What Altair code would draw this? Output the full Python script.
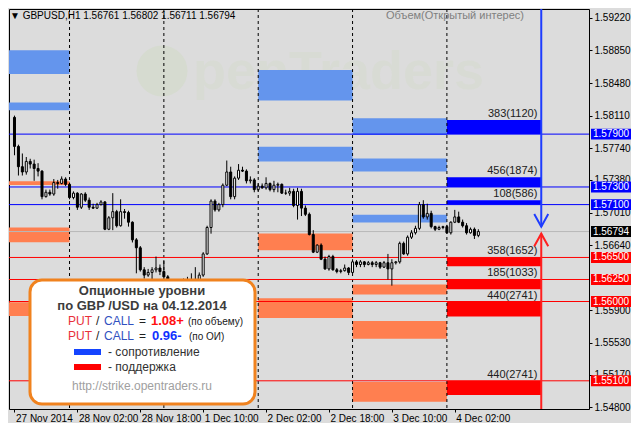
import altair as alt
import pandas as pd

# ---------------- data ----------------
# hourly GBPUSD candles, bar 0 = 27 Nov 2014 10:00 (weekend hours skipped)
opens = [1.5809,1.5776,1.5753,1.5747,1.5759,1.5756,1.5751,1.5748,1.5719,1.5724,
         1.5722,1.5735,1.5734,1.5739,1.5733,1.5718,1.5723,1.5707,1.5722,1.5715,
         1.5707,1.5706,1.5710,1.5713,1.5682,1.5695,1.5702,1.5686,1.5702,1.5701,
         1.5690,1.5670,1.5661,1.5636,1.5630,1.5633,1.5636,1.5638,1.5634,1.5628,
         1.5623,1.5619,1.5615,1.5618,1.5620,1.5624,1.5625,1.5623,1.5630,1.5654,
         1.5684,1.5714,1.5704,1.5710,1.5732,1.5747,1.5719,1.5740,1.5749,1.5748,
         1.5737,1.5738,1.5727,1.5731,1.5729,1.5734,1.5727,1.5732,1.5733,1.5723,
         1.5723,1.5725,1.5709,1.5725,1.5706,1.5699,1.5676,1.5656,1.5664,1.5648,
         1.5637,1.5651,1.5636,1.5634,1.5635,1.5638,1.5633,1.5645,1.5642,1.5645,
         1.5642,1.5644,1.5642,1.5644,1.5639,1.5644,1.5637,1.5644,1.5645,1.5666,
         1.5654,1.5673,1.5678,1.5683,1.5710,1.5696,1.5700,1.5685,1.5682,1.5684,
         1.5685,1.5678,1.5690,1.5696,1.5690,1.5686,1.5678,1.5682,1.5675]
highs = [1.5811,1.5778,1.5768,1.5764,1.5762,1.5761,1.5757,1.5749,1.5727,1.5727,
         1.5739,1.5738,1.5742,1.5741,1.5735,1.5725,1.5724,1.5723,1.5724,1.5718,
         1.5711,1.5712,1.5715,1.5714,1.5697,1.5723,1.5704,1.5716,1.5705,1.5703,
         1.5691,1.5672,1.5663,1.5639,1.5637,1.5639,1.5651,1.5642,1.5647,1.5630,
         1.5625,1.5623,1.5623,1.5626,1.5628,1.5632,1.5639,1.5633,1.5656,1.5686,
         1.5716,1.5716,1.5712,1.5734,1.5760,1.5753,1.5742,1.5756,1.5753,1.5750,
         1.5742,1.5740,1.5734,1.5734,1.5741,1.5735,1.5737,1.5735,1.5734,1.5727,
         1.5729,1.5728,1.5729,1.5728,1.5709,1.5701,1.5681,1.5665,1.5666,1.5651,
         1.5653,1.5653,1.5638,1.5637,1.5642,1.5639,1.5648,1.5647,1.5647,1.5646,
         1.5646,1.5646,1.5646,1.5645,1.5646,1.5654,1.5648,1.5646,1.5668,1.5668,
         1.5675,1.5681,1.5686,1.5713,1.5715,1.5711,1.5703,1.5686,1.5686,1.5686,
         1.5687,1.5691,1.5704,1.5702,1.5693,1.5689,1.5684,1.5684,1.5682]
lows = [1.5766,1.5743,1.5743,1.5744,1.5751,1.5737,1.5742,1.5716,1.5718,1.5720,
        1.5720,1.5728,1.5733,1.5731,1.5716,1.5716,1.5704,1.5705,1.5713,1.5704,
        1.5705,1.5705,1.5709,1.5681,1.5681,1.5681,1.5684,1.5685,1.5694,1.5685,
        1.5667,1.5632,1.5634,1.5626,1.5628,1.5623,1.5633,1.5630,1.5625,1.5617,
        1.5611,1.5606,1.5610,1.5615,1.5617,1.5618,1.5619,1.5620,1.5628,1.5653,
        1.5677,1.5702,1.5702,1.5707,1.5731,1.5716,1.5716,1.5738,1.5747,1.5734,
        1.5734,1.5724,1.5725,1.5728,1.5727,1.5725,1.5724,1.5724,1.5722,1.5721,
        1.5720,1.5707,1.5693,1.5697,1.5697,1.5675,1.5655,1.5655,1.5647,1.5636,
        1.5635,1.5635,1.5632,1.5632,1.5634,1.5630,1.5632,1.5639,1.5639,1.5639,
        1.5641,1.5639,1.5639,1.5637,1.5638,1.5625,1.5618,1.5642,1.5643,1.5653,
        1.5652,1.5671,1.5676,1.5681,1.5694,1.5693,1.5683,1.5680,1.5681,1.5682,
        1.5677,1.5676,1.5689,1.5689,1.5684,1.5676,1.5677,1.5671,1.5673]
closes = [1.5776,1.5753,1.5747,1.5759,1.5756,1.5751,1.5748,1.5719,1.5724,1.5722,
          1.5735,1.5734,1.5739,1.5733,1.5718,1.5723,1.5707,1.5722,1.5715,1.5707,
          1.5706,1.5710,1.5713,1.5682,1.5695,1.5702,1.5686,1.5702,1.5701,1.5690,
          1.5670,1.5661,1.5636,1.5630,1.5633,1.5636,1.5638,1.5634,1.5628,1.5623,
          1.5619,1.5615,1.5618,1.5620,1.5624,1.5625,1.5623,1.5630,1.5654,1.5684,
          1.5714,1.5704,1.5710,1.5732,1.5747,1.5719,1.5740,1.5749,1.5748,1.5737,
          1.5738,1.5727,1.5731,1.5729,1.5734,1.5727,1.5732,1.5733,1.5723,1.5723,
          1.5725,1.5709,1.5725,1.5706,1.5699,1.5676,1.5656,1.5664,1.5648,1.5637,
          1.5651,1.5636,1.5634,1.5635,1.5638,1.5633,1.5645,1.5642,1.5645,1.5642,
          1.5644,1.5642,1.5644,1.5639,1.5644,1.5637,1.5644,1.5645,1.5666,1.5654,
          1.5673,1.5678,1.5683,1.5710,1.5696,1.5700,1.5685,1.5682,1.5684,1.5685,
          1.5678,1.5690,1.5696,1.5690,1.5686,1.5678,1.5682,1.5675,1.56794]
hours = list(range(len(closes)))

day_bounds = [14, 38, 62, 86, 110]          # 28 Nov, 1 Dec, 2 Dec, 3 Dec, 4 Dec 00:00
x_tick_hours = [0, 16, 32, 48, 64, 80, 96, 112]
x_tick_labels = ["27 Nov 2014", "28 Nov 02:00", "28 Nov 18:00", "1 Dec 10:00",
                 "2 Dec 02:00", "2 Dec 18:00", "3 Dec 10:00", "4 Dec 02:00"]
y_tick_values = [1.5922, 1.5885, 1.5848, 1.5811, 1.5774, 1.5738, 1.5701,
                 1.5664, 1.5590, 1.5553, 1.5517, 1.5480]

# option blocks of previous days
blk_start = [-10, -10, -10, -10, -10, 62, 62, 62, 62, 86, 86, 86, 86, 86, 86]
blk_end = [14, 14, 14, 14, 14, 86, 86, 86, 86, 110, 110, 110, 110, 110, 110]
blk_low = [1.58583, 1.58170, 1.57321, 1.56673, 1.55835, 1.58282, 1.57589, 1.56583,
           1.55812, 1.57890, 1.57477, 1.56896, 1.56080, 1.55577, 1.54863]
blk_high = [1.58851, 1.58259, 1.57365, 1.56840, 1.55991, 1.58628, 1.57756, 1.56773,
            1.56036, 1.58080, 1.57622, 1.56985, 1.56192, 1.55779, 1.55086]
blk_kind = ["call", "call", "put", "put", "put", "call", "call", "put", "put",
            "call", "call", "call", "put", "put", "put"]

# today's (4 Dec) levels
lvl_strike = [1.5790, 1.5730, 1.5710, 1.5650, 1.5625, 1.5600, 1.5510]
lvl_edge = [1.5806, 1.5741, 1.5715, 1.5640, 1.5614, 1.5583, 1.5494]
lvl_kind = ["call", "call", "call", "put", "put", "put", "put"]
lvl_text = ["383(1120)", "456(1874)", "108(586)", "358(1652)", "185(1033)",
            "440(2741)", "440(2741)"]
today_start, today_end = 110, 134
last_price = 1.56794
arrow_call_tip = 1.5685
arrow_put_tip = 1.5677

LIGHT = {"call": "#6495ED", "put": "#FF7F50"}
BRIGHT = {"call": "#0000FF", "put": "#FF0000"}
FONT = "Liberation Sans"

# ---------------- frames ----------------
W, H = 580, 400
xs = alt.Scale(domain=[-0.125, 144.875], nice=False, zero=False)
ys = alt.Scale(domain=[1.5478, 1.5932], nice=False, zero=False)

label_js = "[" + ",".join(f"'{s}'" for s in x_tick_labels) + "]"
pos_js = "[" + ",".join(str(v) for v in x_tick_hours) + "]"
x_axis = alt.Axis(values=x_tick_hours, labelExpr=f"{label_js}[indexof({pos_js}, datum.value)]",
                  labelAlign="left", labelBaseline="top", labelPadding=1, labelOffset=1,
                  tickSize=3, tickColor="black", labelColor="black", labelFont=FONT,
                  labelFontSize=10, domain=False, grid=False, title=None,
                  labelFlush=False, labelOverlap=False)
y_axis = alt.Axis(orient="right", values=y_tick_values, format=".5f", tickSize=3,
                  tickColor="black", labelColor="black", labelFont=FONT, labelFontSize=10,
                  labelPadding=2, domain=False, grid=False, title=None,
                  labelFlush=False, labelOverlap=False)


def X(f):
    return alt.X(f, type="quantitative", scale=xs, axis=x_axis)


def Y(f):
    return alt.Y(f, type="quantitative", scale=ys, axis=y_axis)


candles = pd.DataFrame({"t": hours, "open": opens, "high": highs, "low": lows, "close": closes})
candles["fill"] = ["white" if c > o else "black" for o, c in zip(opens, closes)]

blocks = pd.DataFrame({"s": blk_start, "e": blk_end, "lo": blk_low, "hi": blk_high,
                       "col": [LIGHT[k] for k in blk_kind]})
today = pd.DataFrame({"s": [today_start] * len(lvl_strike), "e": [today_end] * len(lvl_strike),
                      "lo": [min(a, b) for a, b in zip(lvl_strike, lvl_edge)],
                      "hi": [max(a, b) for a, b in zip(lvl_strike, lvl_edge)],
                      "col": [BRIGHT[k] for k in lvl_kind], "txt": lvl_text,
                      "tx": [today_end - 1] * len(lvl_strike)})
levels = pd.DataFrame({"lvl": lvl_strike, "col": [BRIGHT[k] for k in lvl_kind]})
seps = pd.DataFrame({"t": day_bounds})
tags = pd.DataFrame({"lvl": lvl_strike + [last_price],
                     "col": [BRIGHT[k] for k in lvl_kind] + ["#000000"],
                     "txt": [f"{v:.5f}" for v in lvl_strike + [last_price]]})
tags["top"] = tags["lvl"] + 0.00062
tags["bot"] = tags["lvl"] - 0.00062
arrows = pd.DataFrame({"t": [today_end], "call": [arrow_call_tip], "put": [arrow_put_tip]})
one = pd.DataFrame({"a": [0]})

# ---------------- layers ----------------
watermark_c = alt.Chart(one).mark_point(filled=True, size=2600, color="#D6DBD0", opacity=1).encode(
    x=alt.value(153), y=alt.value(62))
watermark_t = alt.Chart(one).mark_text(text="penTraders", font=FONT, fontSize=54, fontWeight="bold",
                                       color="#D8DBD4", align="left", baseline="middle").encode(
    x=alt.value(184), y=alt.value(64))

blk_layer = alt.Chart(blocks).mark_rect(clip=True).encode(
    x=X("s"), x2="e", y=Y("lo"), y2="hi", color=alt.Color("col:N", scale=None))
today_layer = alt.Chart(today).mark_rect(clip=True).encode(
    x=X("s"), x2="e", y=Y("lo"), y2="hi", color=alt.Color("col:N", scale=None))
sep_layer = alt.Chart(seps).mark_rule(color="black", strokeWidth=1, strokeDash=[3, 3]).encode(x=X("t"))
lvl_layer = alt.Chart(levels).mark_rule(strokeWidth=1).encode(
    y=Y("lvl"), color=alt.Color("col:N", scale=None))
last_layer = alt.Chart(one).mark_rule(color="#B8B8B8", strokeWidth=1).encode(
    y=alt.datum(last_price, scale=ys, axis=y_axis))

wick = alt.Chart(candles).mark_rule(color="black", strokeWidth=1, clip=True).encode(
    x=X("t"), y=Y("low"), y2="high:Q")
body = alt.Chart(candles).mark_bar(size=2, stroke="black", strokeWidth=1, clip=True).encode(
    x=X("t"), y=Y("open"), y2="close", fill=alt.Color("fill:N", scale=None))

today_txt = alt.Chart(today).mark_text(font=FONT, fontSize=11, color="#202020", align="right",
                                       baseline="bottom", dy=-1).encode(
    x=X("tx"), y=Y("hi"), text="txt:N")

arrow_call = alt.Chart(arrows).mark_rule(color="#1E3CFF", strokeWidth=2).encode(
    x=X("t"), y=Y("call"), y2=alt.value(0))
arrow_put = alt.Chart(arrows).mark_rule(color="#FF2020", strokeWidth=2).encode(
    x=X("t"), y=Y("put"), y2=alt.value(H))
chev_call = alt.Chart(arrows).mark_point(shape="M-1,-1.8L0,0L1,-1.8", filled=False, strokeWidth=2,
                                         size=196, color="#1E3CFF", opacity=1).encode(x=X("t"), y=Y("call"))
chev_put = alt.Chart(arrows).mark_point(shape="M-1,1.8L0,0L1,1.8", filled=False, strokeWidth=2,
                                        size=196, color="#FF2020", opacity=1).encode(x=X("t"), y=Y("put"))

tag_rect = alt.Chart(tags).mark_rect().encode(
    x=alt.value(582), x2=alt.value(622), y=Y("top"), y2="bot", color=alt.Color("col:N", scale=None))
tag_txt = alt.Chart(tags).mark_text(font=FONT, fontSize=10, color="white", baseline="middle").encode(
    x=alt.value(602), y=Y("lvl"), text="txt:N")

title_txt = alt.Chart(one).mark_text(text="\u25BC GBPUSD,H1  1.56761 1.56802 1.56711 1.56794", font=FONT,
                                     fontSize=10, color="black", align="left", baseline="middle").encode(
    x=alt.value(1), y=alt.value(7))
vol_txt = alt.Chart(one).mark_text(text="Объем(Открытый интерес)", font=FONT, fontSize=11,
                                   color="#808080", align="center", baseline="middle").encode(
    x=alt.value(446), y=alt.value(7))

# info box
box = alt.Chart(one).mark_rect(fill="white", stroke="#F0821E", strokeWidth=3, cornerRadius=12).encode(
    x=alt.value(21), x2=alt.value(246), y=alt.value(271), y2=alt.value(395))
swatch = alt.Chart(pd.DataFrame({"y1": [340, 355], "y2": [346, 361], "c": ["#1444FF", "#FF0000"]})).mark_rect().encode(
    x=alt.value(65), x2=alt.value(92), y=alt.Y("y1:Q", scale=None), y2="y2:Q",
    color=alt.Color("c:N", scale=None))

info_bold_c = pd.DataFrame({"txt": ["Опционные уровни", "по GBP /USD на 04.12.2014"],
                            "px": [133, 133], "py": [282, 297], "c": ["#3C3C3C", "#3C3C3C"]})
info_bold_l = pd.DataFrame({"txt": ["1.08+", "0.96-"], "px": [142, 143], "py": [312, 327],
                            "c": ["#FF1010", "#1030FF"]})
info_norm_l = pd.DataFrame({
    "txt": ["PUT", "/", "CALL", "=", "PUT", "/", "CALL", "=", "- сопротивление", "- поддержка"],
    "px": [59, 87, 95, 130, 59, 87, 95, 130, 99, 99],
    "py": [312, 312, 312, 312, 327, 327, 327, 327, 343, 358],
    "c": ["#E8303A", "#202020", "#3050C0", "#202020", "#E8303A", "#202020", "#3050C0", "#202020",
          "#303030", "#303030"]})
info_small_l = pd.DataFrame({"txt": ["(по объему)", "(по ОИ)"], "px": [179, 180], "py": [313, 328]})


def txt_layer(df, size, weight, align, color=None):
    enc = dict(x=alt.X("px:Q", scale=None), y=alt.Y("py:Q", scale=None), text="txt:N")
    if color is None:
        enc["color"] = alt.Color("c:N", scale=None)
    return alt.Chart(df).mark_text(font=FONT, fontSize=size, fontWeight=weight, align=align,
                                   baseline="middle", **({"color": color} if color else {})).encode(**enc)


url_txt = alt.Chart(one).mark_text(text="http://strike.opentraders.ru", font=FONT, fontSize=12,
                                   color="#A0A0A0", align="center", baseline="middle").encode(
    x=alt.value(133), y=alt.value(377))

layers = [watermark_c, watermark_t, blk_layer, today_layer, sep_layer, lvl_layer, last_layer,
          wick, body, today_txt, arrow_call, arrow_put, chev_call, chev_put,
          title_txt, vol_txt, box, swatch,
          txt_layer(info_bold_c, 13, "bold", "center"),
          txt_layer(info_bold_l, 13, "bold", "left"),
          txt_layer(info_norm_l, 12, "normal", "left"),
          txt_layer(info_small_l, 10, "normal", "left", color="#202020"),
          url_txt, tag_rect, tag_txt]

chart = alt.layer(*layers).properties(
    width=W, height=H, background="#DCDCDC", padding=0
).configure_view(stroke="black", strokeWidth=1, fill="#DCDCDC")

chart.save("out.html", embed_options={"renderer": "svg", "actions": False})
